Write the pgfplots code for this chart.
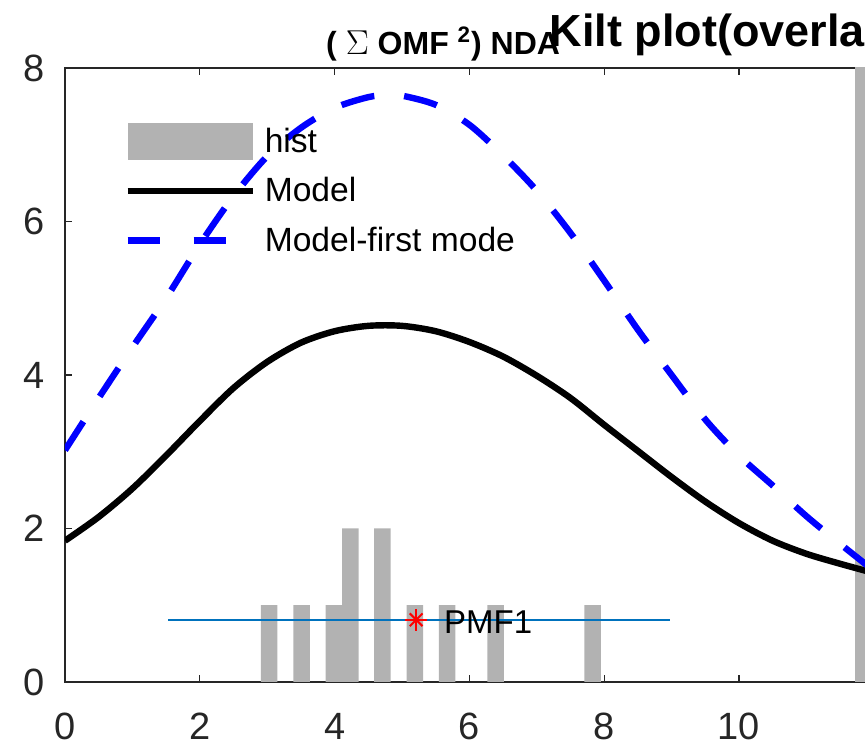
\documentclass[border=0pt]{standalone}
\usepackage{pgfplots}
\pgfplotsset{compat=1.18}
\usepackage{fontspec}
\setmainfont{Liberation Sans}
\definecolor{mlblue}{rgb}{0,0.447,0.741}
\definecolor{axgray}{rgb}{0.15,0.15,0.15}
\definecolor{histgray}{rgb}{0.70,0.70,0.70}
\begin{document}
\begin{tikzpicture}
\begin{axis}[
  scale only axis, width=404.4pt, height=307pt,
  xmin=0, xmax=12, ymin=0, ymax=8,
  xtick={0,2,4,6,8,10}, ytick={0,2,4,6,8},
  tick align=inside,
  major tick length=3.5pt,
  axis line style={axgray, line width=0.6pt},
  tick style={axgray, line width=0.6pt},
  ticklabel style={font=\fontsize{19}{22}\selectfont, text=axgray},
  /pgf/number format/assume math mode=true,
  xticklabel style={yshift=-12pt},
  yticklabel style={xshift=-6.5pt},
  legend cell align=left,
  legend style={draw=none, fill=none, at={(axis cs:0.875,7.29)}, anchor=north west,
    inner sep=0pt, row sep=6.25pt, column sep=4.5pt,
    font=\fontsize{16.8}{19}\selectfont, nodes={inner sep=0pt}},
]
\addplot[ybar, bar width=0.245, bar shift=0pt, fill=histgray, draw=none,
  legend image code/.code={\fill[histgray] (0pt,-9.25pt) rectangle (62.5pt,9.25pt);}]
  coordinates {(3.03,1) (3.51,1) (3.99,1) (4.235,2) (4.71,2) (5.19,1) (5.67,1) (6.39,1) (7.83,1) (11.845,10)};
\addlegendentry{hist}
\addplot[black, line width=3.2pt, smooth,
  legend image code/.code={\path[draw=none, fill=none] (0pt,-9.25pt) rectangle (62.5pt,9.25pt); \draw[black, line width=3.2pt] (0pt,0pt) -- (62.5pt,0pt);}]
  coordinates {(0,1.84) (0.5,2.15) (1.0,2.52) (1.5,2.95) (2.0,3.40) (2.5,3.83) (3.0,4.17) (3.5,4.42) (4.0,4.57) (4.5,4.64) (5.0,4.64) (5.5,4.57) (6.0,4.43) (6.5,4.24) (7.0,3.99) (7.5,3.70) (8.0,3.35) (8.5,3.01) (9.0,2.67) (9.5,2.35) (10.0,2.07) (10.5,1.84) (11.0,1.67) (11.5,1.54) (12.0,1.42)};
\addlegendentry{Model}
\addplot[blue, line width=3.2pt, dash pattern=on 17pt off 15pt, smooth,
  legend image code/.code={\path[draw=none, fill=none] (0pt,-9.25pt) rectangle (62.5pt,9.25pt); \draw[blue, line width=3.2pt, dash pattern=on 16pt off 17pt] (0pt,0pt) -- (62.5pt,0pt);}]
  coordinates {(0,3.02) (0.5,3.70) (1.0,4.36) (1.5,5.00) (2.0,5.70) (2.5,6.33) (3.0,6.85) (3.5,7.22) (4.0,7.48) (4.5,7.62) (4.8,7.65) (5.0,7.64) (5.5,7.52) (6.0,7.26) (6.5,6.86) (7.0,6.40) (7.5,5.85) (8.0,5.23) (8.5,4.59) (9.0,4.00) (9.5,3.42) (10.0,2.95) (10.5,2.56) (11.0,2.16) (11.5,1.80) (12.0,1.45)};
\addlegendentry{Model-first mode}
\addplot[mlblue, line width=1.1pt, forget plot] coordinates {(1.53,0.81) (8.97,0.81)};
\addplot[red, only marks, mark=+, mark size=5.5pt, line width=1pt, forget plot] coordinates {(5.21,0.81)};
\addplot[red, only marks, mark=x, mark size=4.5pt, line width=1pt, forget plot] coordinates {(5.21,0.81)};
\node[anchor=base west, inner sep=0pt, font=\fontsize{16.5}{18}\selectfont] at (axis cs:5.62,0.63) {PMF1};
\coordinate (ll) at (axis cs:0,0);
\coordinate (ur) at (axis cs:11.87,8);
\coordinate (st) at (axis cs:3.87,8);
\end{axis}
\node[anchor=base east, inner sep=0pt, font=\fontsize{22.5}{27}\selectfont\bfseries] at ([yshift=10.5pt]ur) {Kilt plot(overla};
\node[anchor=base west, inner sep=0pt, font=\fontsize{16}{19}\selectfont\bfseries] at ([yshift=6.5pt]st) {( $\Sigma$ OMF \textsuperscript{2}) NDA};
\pgfresetboundingbox
\path[use as bounding box] ([shift={(-32.5pt,-33pt)}]ll) rectangle ([shift={(0pt,34pt)}]ur);
\end{tikzpicture}
\end{document}
